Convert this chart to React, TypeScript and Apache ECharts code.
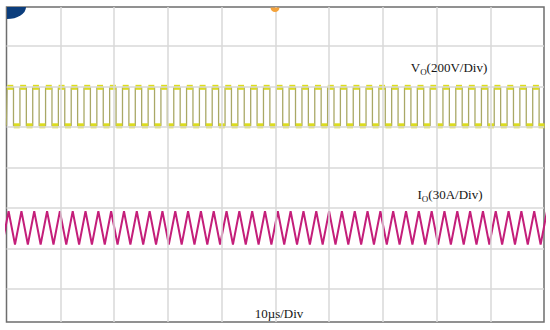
import React, { useEffect, useRef } from "react";
import * as echarts from "echarts";

// Time axis: 10 µs/div, 10 divisions (0..100 µs). Y axis in screen divisions.
// Vo square wave: transition times (µs) and level after each transition (div)
const voTimes = [
  0, 0.11, 1.30, 2.50, 3.69, 4.88, 6.07, 7.27, 8.46, 9.65, 10.84,
  12.04, 13.23, 14.42, 15.61, 16.81, 18.00, 19.19, 20.38, 21.58, 22.77,
  23.96, 25.15, 26.35, 27.54, 28.73, 29.92, 31.12, 32.31, 33.50, 34.69,
  35.89, 37.08, 38.27, 39.46, 40.66, 41.85, 43.04, 44.23, 45.43, 46.62,
  47.81, 49.00, 50.20, 51.39, 52.58, 53.77, 54.97, 56.16, 57.35, 58.54,
  59.74, 60.93, 62.12, 63.31, 64.51, 65.70, 66.89, 68.08, 69.28, 70.47,
  71.66, 72.85, 74.05, 75.24, 76.43, 77.62, 78.82, 80.01, 81.20, 82.39,
  83.59, 84.78, 85.97, 87.16, 88.36, 89.55, 90.74, 91.93, 93.13, 94.32,
  95.51, 96.70, 97.90, 99.09, 100,
];
const voLevels = [
  1.03, 1.98, 1.03, 1.98, 1.03, 1.98, 1.03, 1.98, 1.03, 1.98, 1.03,
  1.98, 1.03, 1.98, 1.03, 1.98, 1.03, 1.98, 1.03, 1.98, 1.03,
  1.98, 1.03, 1.98, 1.03, 1.98, 1.03, 1.98, 1.03, 1.98, 1.03,
  1.98, 1.03, 1.98, 1.03, 1.98, 1.03, 1.98, 1.03, 1.98, 1.03,
  1.98, 1.03, 1.98, 1.03, 1.98, 1.03, 1.98, 1.03, 1.98, 1.03,
  1.98, 1.03, 1.98, 1.03, 1.98, 1.03, 1.98, 1.03, 1.98, 1.03,
  1.98, 1.03, 1.98, 1.03, 1.98, 1.03, 1.98, 1.03, 1.98, 1.03,
  1.98, 1.03, 1.98, 1.03, 1.98, 1.03, 1.98, 1.03, 1.98, 1.03,
  1.98, 1.03, 1.98, 1.03, 1.03,
];

// Io triangle wave: vertex times (µs) and vertex levels (div)
const ioTimes = [
  -0.80, 0.39, 1.58, 2.78, 3.97, 5.16, 6.35, 7.55, 8.74, 9.93, 11.12,
  12.32, 13.51, 14.70, 15.89, 17.09, 18.28, 19.47, 20.66, 21.86, 23.05,
  24.24, 25.43, 26.63, 27.82, 29.01, 30.20, 31.40, 32.59, 33.78, 34.97,
  36.17, 37.36, 38.55, 39.74, 40.94, 42.13, 43.32, 44.51, 45.71, 46.90,
  48.09, 49.28, 50.48, 51.67, 52.86, 54.05, 55.25, 56.44, 57.63, 58.82,
  60.02, 61.21, 62.40, 63.59, 64.79, 65.98, 67.17, 68.36, 69.56, 70.75,
  71.94, 73.13, 74.33, 75.52, 76.71, 77.90, 79.10, 80.29, 81.48, 82.67,
  83.87, 85.06, 86.25, 87.44, 88.64, 89.83, 91.02, 92.21, 93.41, 94.60,
  95.79, 96.98, 98.18, 99.37, 100.56,
];
const ioLevels = [
  -1.90, -1.08, -1.90, -1.08, -1.90, -1.08, -1.90, -1.08, -1.90, -1.08, -1.90,
  -1.08, -1.90, -1.08, -1.90, -1.08, -1.90, -1.08, -1.90, -1.08, -1.90,
  -1.08, -1.90, -1.08, -1.90, -1.08, -1.90, -1.08, -1.90, -1.08, -1.90,
  -1.08, -1.90, -1.08, -1.90, -1.08, -1.90, -1.08, -1.90, -1.08, -1.90,
  -1.08, -1.90, -1.08, -1.90, -1.08, -1.90, -1.08, -1.90, -1.08, -1.90,
  -1.08, -1.90, -1.08, -1.90, -1.08, -1.90, -1.08, -1.90, -1.08, -1.90,
  -1.08, -1.90, -1.08, -1.90, -1.08, -1.90, -1.08, -1.90, -1.08, -1.90,
  -1.08, -1.90, -1.08, -1.90, -1.08, -1.90, -1.08, -1.90, -1.08, -1.90,
  -1.08, -1.90, -1.08, -1.90, -1.08,
];

const gridXLines = [10, 20, 30, 40, 50, 60, 70, 80, 90];
const gridYLines = [-3, -2, -1, 0, 1, 2, 3];

const voLabel = ["V", "O", "(200V/Div)"];
const ioLabel = ["I", "O", "(30A/Div)"];
const timeLabel = "10µs/Div";

const FONT = "'Liberation Serif', 'Times New Roman', serif";

export default function App() {
  const ref = useRef<HTMLDivElement>(null);

  useEffect(() => {
    const chart = echarts.init(ref.current!, null, { renderer: "svg" });

    const voStep = voTimes.map((t, i) => [t, voLevels[i]]);
    const voBlobs: number[][] = [];
    for (let i = 1; i < voTimes.length - 1; i++) {
      voBlobs.push([(voTimes[i] + voTimes[i + 1]) / 2, voLevels[i]]);
    }
    const ioData = ioTimes.map((t, i) => [t, ioLevels[i]]);

    const rich = {
      m: { fontSize: 13, fontFamily: FONT, fill: "#151515", lineHeight: 18 },
      s: {
        fontSize: 9,
        fontFamily: FONT,
        fill: "#151515",
        lineHeight: 18,
        padding: [9, 0, 0, 0],
      },
    };

    chart.setOption({
      animation: false,
      backgroundColor: "#ffffff",
      grid: {
        left: 6.5,
        right: 6,
        top: 7,
        bottom: 8,
        show: true,
        borderColor: "#6e6e6e",
        borderWidth: 1.5,
        backgroundColor: "transparent",
      },
      xAxis: {
        type: "value",
        min: 0,
        max: 100,
        show: false,
      },
      yAxis: {
        type: "value",
        min: -3.815,
        max: 3.963,
        show: false,
      },
      series: [
        {
          type: "line",
          data: [],
          z: 1,
          markLine: {
            silent: true,
            symbol: "none",
            label: { show: false },
            lineStyle: { color: "#d9d9d9", width: 1.5, type: "solid" },
            data: [
              ...gridXLines.map((x) => ({ xAxis: x })),
              ...gridYLines.map((y) => ({ yAxis: y })),
            ],
          },
        },
        {
          type: "line",
          step: "end",
          data: voStep,
          showSymbol: false,
          z: 3,
          lineStyle: { color: "#a9a866", width: 1.3 },
        },
        {
          type: "scatter",
          data: voBlobs,
          symbol: "rect",
          symbolSize: [6, 5],
          z: 4,
          itemStyle: { color: "#dcdc1e", opacity: 1 },
        },
        {
          type: "line",
          data: ioData,
          showSymbol: false,
          z: 3,
          lineStyle: { color: "#c41f7a", width: 2 },
        },
      ],
      graphic: [
        {
          type: "sector",
          x: 7,
          y: 7,
          scaleY: 0.63,
          shape: { cx: 0, cy: 0, r: 19, r0: 0, startAngle: 0, endAngle: Math.PI / 2 },
          style: { fill: "#0b3d7c" },
          z: 10,
        },
        {
          type: "sector",
          x: 275,
          y: 7.5,
          shape: { cx: 0, cy: 0, r: 4.5, r0: 0, startAngle: 0, endAngle: Math.PI },
          style: { fill: "#f4a23a" },
          z: 10,
        },
        {
          type: "text",
          x: 449,
          y: 67,
          z: 10,
          style: {
            text: `{m|${voLabel[0]}}{s|${voLabel[1]}}{m|${voLabel[2]}}`,
            rich,
            align: "center",
            verticalAlign: "middle",
          },
        },
        {
          type: "text",
          x: 450,
          y: 194,
          z: 10,
          style: {
            text: `{m|${ioLabel[0]}}{s|${ioLabel[1]}}{m|${ioLabel[2]}}`,
            rich,
            align: "center",
            verticalAlign: "middle",
          },
        },
        {
          type: "text",
          x: 279,
          y: 313,
          z: 10,
          style: {
            text: timeLabel,
            fontSize: 13,
            fontFamily: FONT,
            fill: "#151515",
            align: "center",
            verticalAlign: "middle",
          },
        },
      ],
    });

    return () => chart.dispose();
  }, []);

  return (
    <div
      ref={ref}
      style={{ position: "fixed", left: 0, top: 0, width: 550, height: 330 }}
    />
  );
}
